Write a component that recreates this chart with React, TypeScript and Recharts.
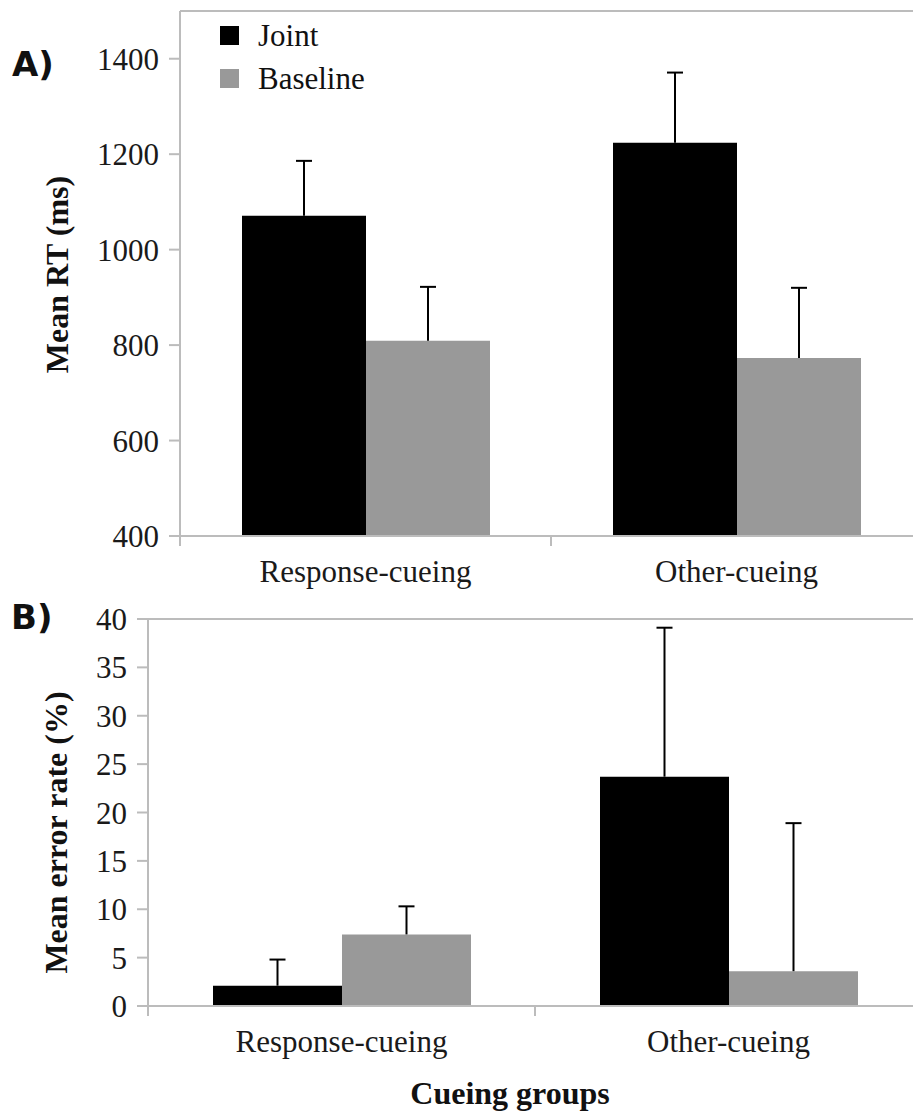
import { Bar, BarChart, Legend, ReferenceLine, XAxis, YAxis } from 'recharts';

const categories = ['Response-cueing', 'Other-cueing'];
const seriesNames = ['Joint', 'Baseline'];

// panel A: mean RT (ms)
const rtJoint = [1071, 1224];
const rtJointErr = [115, 147];
const rtBaseline = [809, 773];
const rtBaselineErr = [113, 147];
const rtTicks = [400, 600, 800, 1000, 1200, 1400];

// panel B: mean error rate (%)
const erJoint = [2.1, 23.7];
const erJointErr = [2.7, 15.4];
const erBaseline = [7.4, 3.6];
const erBaselineErr = [2.9, 15.3];
const erTicks = [0, 5, 10, 15, 20, 25, 30, 35, 40];

const serif = '"Liberation Serif", "Times New Roman", serif';
const axisGray = '#bcbcbc';
const X_TICK_SIZE = 10;
const X_TICK_MARGIN = 14;

const rtData = categories.map((name, i) => ({
  name,
  joint: rtJoint[i],
  jointErr: rtJointErr[i],
  baseline: rtBaseline[i],
  baselineErr: rtBaselineErr[i],
}));

const erData = categories.map((name, i) => ({
  name,
  joint: erJoint[i],
  jointErr: erJointErr[i],
  baseline: erBaseline[i],
  baselineErr: erBaselineErr[i],
}));

const tickStyle = { fontFamily: serif, fontSize: 31, fill: '#1a1a1a' };

const ErrShape = (props: any) => {
  const { x, y, width, height } = props;
  const cx = x + width / 2;
  return (
    <g>
      <line x1={cx} x2={cx} y1={y + height} y2={y} stroke="#000" strokeWidth={2} />
      <line x1={cx - 8} x2={cx + 8} y1={y} y2={y} stroke="#000" strokeWidth={2} />
    </g>
  );
};

// category label plus the tick marks on the band edges
const CatTick = (props: any) => {
  const { x, y, payload, index } = props;
  const off = payload && payload.offset ? payload.offset : 0;
  const ay = y - X_TICK_SIZE - X_TICK_MARGIN;
  return (
    <g>
      <text x={x} y={y} dy="0.71em" textAnchor="middle" {...tickStyle}>
        {payload.value}
      </text>
      {off > 0 && index === 0 && (
        <line x1={x - off} x2={x - off} y1={ay} y2={ay + X_TICK_SIZE} stroke={axisGray} strokeWidth={2} />
      )}
      {off > 0 && (
        <line x1={x + off} x2={x + off} y1={ay} y2={ay + X_TICK_SIZE} stroke={axisGray} strokeWidth={2} />
      )}
    </g>
  );
};

const VLabel = (props: any) => {
  const vb = props.viewBox;
  const cx = vb.x + props.dx;
  const cy = vb.y + vb.height / 2 + props.dy;
  return (
    <text
      x={cx}
      y={cy}
      transform={`rotate(-90 ${cx} ${cy})`}
      textAnchor="middle"
      dominantBaseline="central"
      fontFamily={serif}
      fontWeight="bold"
      fontSize={32}
      fill="#111"
    >
      {props.text}
    </text>
  );
};

const HLabel = (props: any) => {
  const vb = props.viewBox;
  return (
    <text
      x={vb.x + vb.width / 2 + props.dx}
      y={vb.y + props.dy}
      textAnchor="middle"
      fontFamily={serif}
      fontWeight="bold"
      fontSize={32}
      fill="#111"
    >
      {props.text}
    </text>
  );
};

const renderLegend = (props: any) => {
  const items = (props.payload || [])
    .filter((p: any) => seriesNames.includes(p.value))
    .sort((a: any, b: any) => seriesNames.indexOf(a.value) - seriesNames.indexOf(b.value));
  return (
    <div style={{ fontFamily: serif, fontSize: 31, color: '#111' }}>
      {items.map((item: any) => (
        <div key={item.value} style={{ display: 'flex', alignItems: 'center', height: 43 }}>
          <span style={{ width: 19, height: 19, background: item.color, marginRight: 19 }} />
          <span>{item.value}</span>
        </div>
      ))}
    </div>
  );
};

function Panel(props: any) {
  const { data, domain, ticks, yWidth, top, height, marginTop, xHeight, barSize, yLabel, yLabelDx, yLabelDy, legend, xLabel } = props;
  return (
    <div style={{ position: 'absolute', left: 0, top }}>
      <BarChart
        width={940}
        height={height}
        data={data}
        margin={{ top: marginTop, right: 18, bottom: 0, left: 0 }}
        barGap={0}
        barSize={barSize}
      >
        <XAxis
          dataKey="name"
          height={xHeight}
          interval={0}
          axisLine={{ stroke: axisGray, strokeWidth: 2 }}
          tickLine={false}
          tickSize={X_TICK_SIZE}
          tickMargin={X_TICK_MARGIN}
          tick={<CatTick />}
          label={xLabel ? <HLabel text={xLabel} dx={-25} dy={98} /> : undefined}
        />
        <YAxis
          width={yWidth}
          domain={domain}
          ticks={ticks}
          interval={0}
          allowDataOverflow
          axisLine={{ stroke: axisGray, strokeWidth: 2 }}
          tickLine={{ stroke: axisGray, strokeWidth: 2 }}
          tickSize={11}
          tickMargin={10}
          tick={tickStyle}
          label={<VLabel text={yLabel} dx={yLabelDx} dy={yLabelDy} />}
        />
        <ReferenceLine y={domain[1]} stroke={axisGray} strokeWidth={2} />
        {legend && (
          <Legend
            layout="vertical"
            align="center"
            verticalAlign="middle"
            content={renderLegend}
            wrapperStyle={{ left: 220, top: 14, width: 'auto' }}
          />
        )}
        <Bar dataKey="joint" name={seriesNames[0]} stackId="j" fill="#000000" isAnimationActive={false} />
        <Bar dataKey="jointErr" stackId="j" fill="none" legendType="none" shape={ErrShape} isAnimationActive={false} />
        <Bar dataKey="baseline" name={seriesNames[1]} stackId="b" fill="#999999" isAnimationActive={false} />
        <Bar dataKey="baselineErr" stackId="b" fill="none" legendType="none" shape={ErrShape} isAnimationActive={false} />
      </BarChart>
    </div>
  );
}

export default function App() {
  return (
    <div
      style={{
        position: 'absolute',
        left: 0,
        top: 0,
        width: 913,
        height: 1114,
        overflow: 'hidden',
        background: '#fff',
      }}
    >
      <Panel
        data={rtData}
        domain={[400, 1500]}
        ticks={rtTicks}
        yWidth={180}
        top={0}
        height={600}
        marginTop={11}
        xHeight={64}
        barSize={124}
        yLabel="Mean RT (ms)"
        yLabelDx={57}
        yLabelDy={1}
        legend
      />
      <Panel
        data={erData}
        domain={[0, 40]}
        ticks={erTicks}
        yWidth={148}
        top={600}
        height={514}
        marginTop={19}
        xHeight={108}
        barSize={129}
        yLabel="Mean error rate (%)"
        yLabelDx={56}
        yLabelDy={20}
        xLabel="Cueing groups"
      />
      <span
        style={{
          position: 'absolute',
          left: 12,
          top: 44,
          fontFamily: '"DejaVu Sans", sans-serif',
          fontWeight: 'bold',
          fontSize: 34,
          lineHeight: '40px',
          color: '#111',
        }}
      >
        A)
      </span>
      <span
        style={{
          position: 'absolute',
          left: 11,
          top: 597,
          fontFamily: '"DejaVu Sans", sans-serif',
          fontWeight: 'bold',
          fontSize: 34,
          lineHeight: '40px',
          color: '#111',
        }}
      >
        B)
      </span>
    </div>
  );
}
